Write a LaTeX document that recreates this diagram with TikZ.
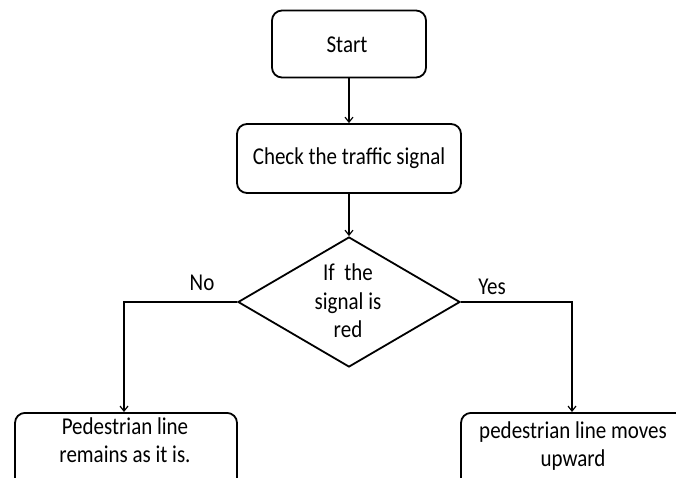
\documentclass[tikz,border=0pt]{standalone}
\usepackage{fontspec}
\usepackage{graphicx}
\setmainfont{Carlito}
\usetikzlibrary{shapes.geometric,arrows.meta}
\newcommand\vsc[1]{\scalebox{1}[1.15]{#1}}
\begin{document}
\begin{tikzpicture}[x=1pt,y=-1pt,
  box/.style={draw,line width=1.8pt,rounded corners=10pt,inner sep=0pt},
  txt/.style={inner sep=0pt,align=center,font=\fontsize{21}{28.5}\selectfont},
  lbl/.style={inner sep=0pt,font=\fontsize{21}{25}\selectfont},
  conn/.style={line width=1.2pt},
  arr/.style={conn,-{Straight Barb[length=5pt,width=8pt,line width=1.2pt]}}]
\useasboundingbox (0,0) rectangle (676,477);
\clip (0,0) rectangle (676,477);
\node[box,minimum width=154pt,minimum height=67pt] (start) at (349,44) {};
\node[txt] (starttxt) at (347,45) {\vsc{Start}};
\node[box,minimum width=224pt,minimum height=69pt] (check) at (349,158.5) {};
\node[txt] (checktxt) at (349,158) {\vsc{Check the traffic signal}};
\node[diamond,draw,line width=1.8pt,inner sep=0pt,minimum width=222pt,minimum height=130pt] (dec) at (349,302) {};
\node[txt] (dectxt) at (348,301) {\vsc{If\ \ the}\\\vsc{signal is}\\\vsc{red}};
\node[box,minimum width=222pt,minimum height=100pt,anchor=north] (left) at (126,412) {};
\node[txt] (lefttxt) at (125,440) {\vsc{Pedestrian line}\\\vsc{remains as it is.}};
\node[box,minimum width=224pt,minimum height=100pt,anchor=north] (right) at (573,412) {};
\node[txt] (righttxt) at (573,446) {\vsc{pedestrian line moves}\\\vsc{upward}};
\node[lbl] (no) at (202,283) {\vsc{No}};
\node[lbl] (yes) at (492,287) {\vsc{Yes}};
\draw[arr] (start.south) -- (check.north);
\draw[arr] (check.south) -- (dec.north);
\draw[arr] (dec.west) -| (left.north -| 124,0);
\draw[arr] (dec.east) -| (right.north -| 572,0);
\end{tikzpicture}
\end{document}
